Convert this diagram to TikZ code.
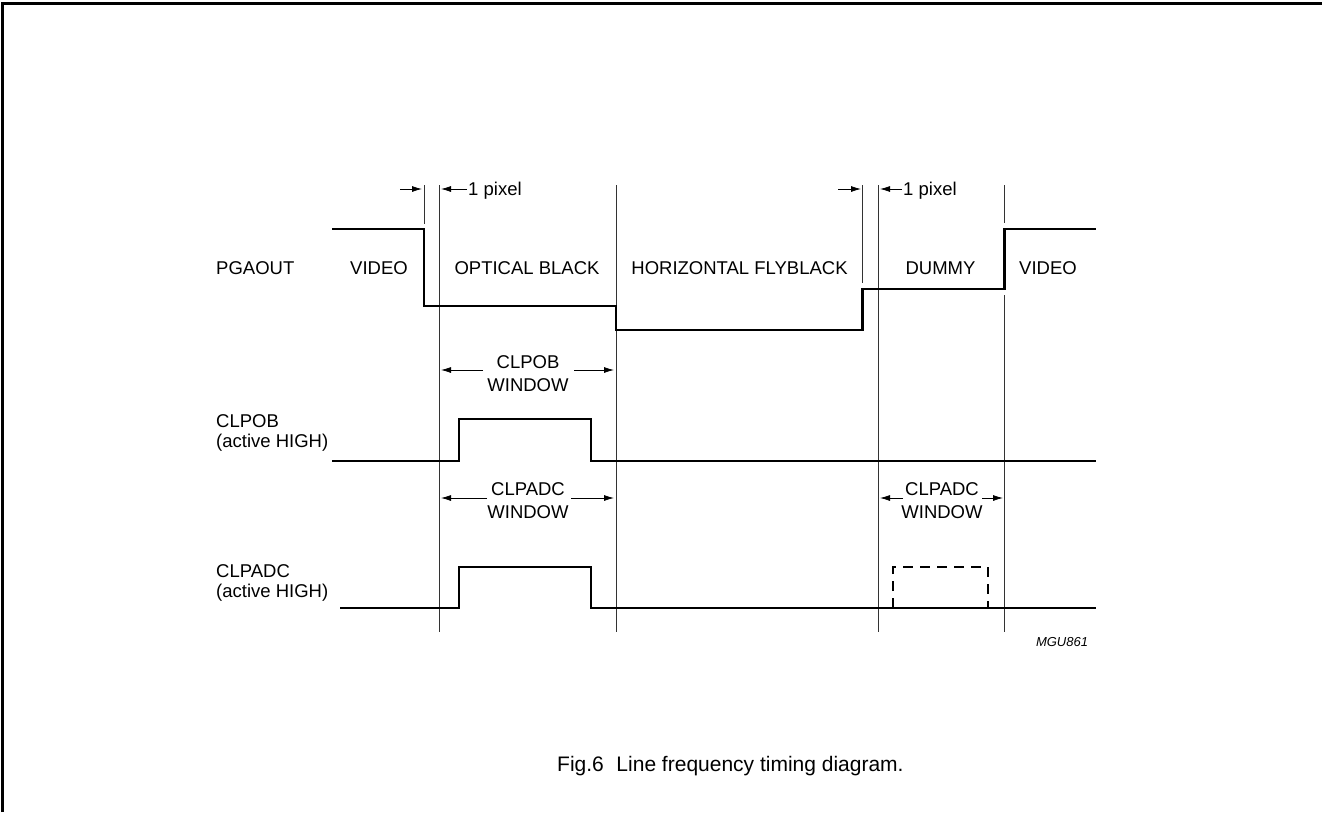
\documentclass[tikz,border=0pt]{standalone}
\usepackage{fontspec}
\setmainfont{Liberation Sans}
\usetikzlibrary{arrows.meta}
\begin{document}
\begin{tikzpicture}[x=1pt,y=-1pt,
  sig/.style={line width=2.6pt,line join=miter},
  guide/.style={line width=0.9pt,black!80},
  dim/.style={line width=0.8pt,-{Latex[length=10pt,width=6pt]}},
  lbl/.style={font=\fontsize{18.5}{23}\selectfont,inner sep=0pt,text depth=0pt},
  lbll/.style={lbl,anchor=west,align=left},
  lblc/.style={lbl,align=center}]
\useasboundingbox (0,0) rectangle (1322,812);
% frame (top and left edges)
\draw[line width=3pt] (2,812) -- (2,3) -- (1322,3);
% guide lines
\draw[guide] (424,185) -- (424,224);
\draw[guide] (439.5,185) -- (439.5,632);
\draw[guide] (616,185) -- (616,632);
\draw[guide] (862.5,185) -- (862.5,283);
\draw[guide] (878.5,185) -- (878.5,632);
\draw[guide] (1004.5,185) -- (1004.5,223);
\draw[guide] (1004.5,295) -- (1004.5,632);
% signals
\draw[sig] (332,229) -- (424,229) -- (424,306) -- (616,306) -- (616,330) -- (862.5,330) -- (862.5,289) -- (1004.5,289) -- (1004.5,229) -- (1096,229);
\draw[sig] (332,461) -- (459,461) -- (459,419) -- (591,419) -- (591,461) -- (1096,461);
\draw[sig] (340,608) -- (459,608) -- (459,567) -- (591,567) -- (591,608) -- (1096,608);
\draw[sig,dash pattern=on 10pt off 7pt] (893,608) -- (893,567) -- (988,567) -- (988,608);
% coordinates for dimension arrows
\coordinate (a1s) at (400,189); \coordinate (a1e) at (422,189);
\coordinate (a2s) at (467,189); \coordinate (a2e) at (441,189);
\coordinate (a3s) at (838,189); \coordinate (a3e) at (861,189);
\coordinate (a4s) at (902,189); \coordinate (a4e) at (880,189);
\coordinate (b1s) at (483,370); \coordinate (b1e) at (441,370);
\coordinate (b2s) at (574,370); \coordinate (b2e) at (614,370);
\coordinate (c1s) at (487,498); \coordinate (c1e) at (441,498);
\coordinate (c2s) at (571,498); \coordinate (c2e) at (614,498);
\coordinate (d1s) at (903,498); \coordinate (d1e) at (880,498);
\coordinate (d2s) at (982,498); \coordinate (d2e) at (1003,498);
\foreach \p in {a1,a2,a3,a4,b1,b2,c1,c2,d1,d2} \draw[dim] (\p s) -- (\p e);
% labels
\node[lbll] (px1) at (468,189) {1 pixel};
\node[lbll] (px2) at (903,189) {1 pixel};
\node[lbll] (pga) at (216,268) {PGAOUT};
\node[lblc] (vid1) at (379,268) {VIDEO};
\node[lblc] (ob) at (527,268) {OPTICAL BLACK};
\node[lblc] (hf) at (739.5,268) {HORIZONTAL FLYBLACK};
\node[lblc] (dum) at (940.5,268) {DUMMY};
\node[lblc] (vid2) at (1048,268) {VIDEO};
\node[lblc] (obw) at (528,374) {CLPOB\\WINDOW};
\node[lblc] (adw) at (528,501) {CLPADC\\WINDOW};
\node[lblc] (adw2) at (942,501) {CLPADC\\WINDOW};
\node[lbll,font=\fontsize{18.5}{20}\selectfont] (clpob) at (216,431) {CLPOB\\(active HIGH)};
\node[lbll,font=\fontsize{18.5}{20}\selectfont] (clpadc) at (216,581) {CLPADC\\(active HIGH)};
\node[lbl,font=\fontsize{13}{15}\selectfont\itshape] (mgu) at (1062,642) {MGU861};
\node[lbll,font=\fontsize{21}{25}\selectfont] (cap) at (557,764) {Fig.6\hspace{0.6em}Line frequency timing diagram.};
\end{tikzpicture}
\end{document}
